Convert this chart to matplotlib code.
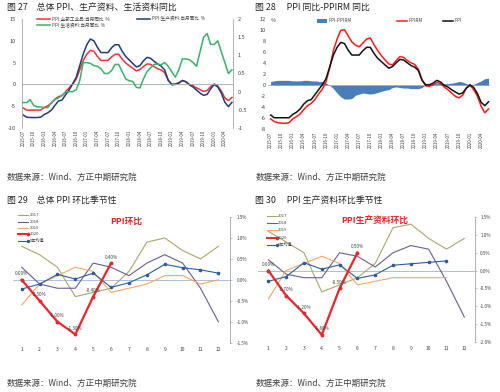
import numpy as np
import pandas as pd
import matplotlib.pyplot as plt
from matplotlib.lines import Line2D
from matplotlib.patches import Rectangle

plt.rcParams['font.family'] = ['Noto Sans CJK SC', 'DejaVu Sans']
plt.rcParams['axes.unicode_minus'] = False

W, H = 500, 392

# ---- monthly data 2015-07 .. 2020-06 ----
months = [p.strftime('%Y-%m') for p in pd.period_range('2015-07', '2020-06', freq='M')]

ppi = [-5.4, -5.9, -5.9, -5.9, -5.9, -5.9,
       -5.3, -4.9, -4.3, -3.4, -2.8, -2.6, -1.7, -0.8, 0.1, 1.2, 3.3, 5.5,
       6.9, 7.8, 7.6, 6.4, 5.5, 5.5, 5.5, 6.3, 6.9, 6.9, 5.8, 4.9,
       4.3, 3.7, 3.1, 3.4, 4.1, 4.7, 4.6, 4.1, 3.6, 3.3, 2.7, 0.9,
       0.1, 0.1, 0.4, 0.9, 0.6, 0.0, -0.3, -0.8, -1.2, -1.6, -1.4, -0.5,
       0.1, -0.4, -1.5, -3.1, -3.7, -3.0]

ppi_prod = [-7.0, -7.5, -7.6, -7.6, -7.6, -7.5,
            -6.9, -6.5, -5.9, -4.8, -3.8, -3.6, -2.4, -1.3, 0.1, 1.6, 4.3, 7.0,
            9.1, 10.4, 10.0, 8.5, 7.3, 7.3, 7.3, 8.4, 9.1, 9.1, 7.6, 6.4,
            5.6, 4.8, 4.0, 4.3, 5.4, 6.2, 6.0, 5.3, 4.7, 4.2, 3.3, 1.0,
            -0.1, 0.0, 0.3, 0.9, 0.6, -0.1, -0.6, -1.3, -2.0, -2.5, -2.3, -1.0,
            0.0, -0.6, -2.0, -4.1, -5.1, -4.1]

ppi_cons = [-0.3, -0.3, -0.22, -0.38, -0.42, -0.42,
            -0.44, -0.44, -0.3, -0.22, -0.17, -0.1, -0.02, 0.0, 0.0, 0.05, 0.3, 0.8,
            0.8, 0.78, 0.72, 0.7, 0.63, 0.5, 0.5, 0.58, 0.75, 0.75, 0.55, 0.35,
            0.3, 0.28, 0.12, 0.1, 0.35, 0.55, 0.65, 0.75, 0.76, 0.74, 0.8, 0.7,
            0.55, 0.4, 0.6, 0.9, 0.9, 0.88, 0.8, 0.7, 1.1, 1.5, 1.6, 1.3,
            1.3, 1.4, 1.1, 0.8, 0.5, 0.6]

ppirm = [-6.1, -6.6, -6.8, -6.9, -6.9, -6.8,
         -6.1, -5.7, -5.2, -4.4, -3.7, -3.3, -2.6, -1.6, -0.7, 0.6, 3.2, 6.3,
         8.4, 10.0, 10.1, 9.0, 7.9, 7.3, 7.0, 7.7, 8.4, 8.6, 7.4, 6.3,
         5.4, 4.6, 3.9, 3.7, 4.5, 5.2, 5.1, 4.5, 4.1, 3.8, 2.9, 1.0,
         -0.1, -0.2, 0.1, 0.5, 0.3, -0.3, -0.8, -1.4, -2.0, -2.3, -1.8, -0.5,
         0.0, -0.8, -2.0, -3.8, -5.0, -4.3]

ppi_minus_ppirm = [0.7, 0.8, 0.9, 0.9, 0.9, 0.9,
                   0.8, 0.8, 0.8, 0.9, 0.9, 0.8, 0.8, 0.7, 0.7, 0.4, 0.0, -0.6,
                   -1.4, -2.1, -2.5, -2.5, -2.4, -1.8, -1.6, -1.4, -1.5, -1.6, -1.5, -1.3,
                   -1.1, -0.9, -0.8, -0.4, -0.3, -0.4, -0.5, -0.5, -0.6, -0.6, -0.6, -0.4,
                   0.1, 0.2, 0.3, 0.3, 0.3, 0.3, 0.3, 0.4, 0.5, 0.7, 0.6, 0.3,
                   0.1, 0.2, 0.5, 0.8, 1.2, 1.3]

# ---- month-on-month seasonality ----
mon = list(range(1, 13))
ppi_mom_2017 = [0.8, 0.6, 0.3, -0.4, -0.3, -0.2, 0.2, 0.9, 1.0, 0.7, 0.5, 0.8]
ppi_mom_2018 = [0.3, -0.1, -0.2, -0.2, 0.4, 0.3, 0.1, 0.4, 0.6, 0.4, -0.2, -1.0]
ppi_mom_2019 = [-0.6, -0.1, 0.1, 0.3, 0.2, -0.3, -0.2, -0.1, 0.1, 0.1, -0.1, 0.0]
ppi_mom_2020 = [0.0, -0.5, -1.0, -1.3, -0.4, 0.4]
ppi_mom_avg = [-0.22, -0.1, 0.13, 0.02, 0.16, -0.18, -0.07, 0.12, 0.37, 0.29, 0.24, 0.16]

prod_mom_2017 = [1.1, 0.8, 0.5, -0.6, -0.4, -0.2, 0.2, 1.2, 1.3, 0.9, 0.6, 0.9]
prod_mom_2018 = [0.3, -0.1, -0.2, -0.2, 0.5, 0.4, 0.1, 0.5, 0.7, 0.6, -0.3, -1.3]
prod_mom_2019 = [-0.8, 0.0, 0.2, 0.4, 0.2, -0.4, -0.3, -0.2, -0.2, -0.2, -0.2]
prod_mom_2020 = [0.0, -0.7, -1.2, -1.8, -0.5, 0.5]
prod_mom_avg = [-0.3, -0.17, 0.22, 0.04, 0.16, -0.22, -0.12, 0.15, 0.19, 0.23, 0.27]

GRID = '#a6a6a6'
TXT = '#404040'

fig = plt.figure(figsize=(W / 100, H / 100), dpi=100)
fig.patch.set_facecolor('white')


def px_axes(x0, y0, x1, y1):
    return fig.add_axes([x0 / W, 1 - y1 / H, (x1 - x0) / W, (y1 - y0) / H])


def fx(x):
    return x / W


def fy(y):
    return 1 - y / H


def key(x0, x1, y, label, fs=3.3, **kw):
    fig.add_artist(Line2D([fx(x0), fx(x1)], [fy(y), fy(y)], transform=fig.transFigure, **kw))
    fig.text(fx(x1 + 1.5), fy(y), label, fontsize=fs, va='center', ha='left', color=TXT)


def style(ax, spines=()):
    for s in ['left', 'right', 'top', 'bottom']:
        ax.spines[s].set_visible(s in spines)
        ax.spines[s].set_color(GRID)
        ax.spines[s].set_linewidth(0.6)
    ax.set_facecolor('none')


idx = np.arange(len(months))

# ================= 图 27 =================
ax1 = px_axes(22, 19, 233, 128)
ax1.plot(idx, ppi, color='#e8343c', lw=1.1)
ax1.plot(idx, ppi_prod, color='#1f3d7a', lw=1.1)
ax1.axhline(0, color=GRID, lw=0.6)
ax1.set_xlim(-0.3, 59.3)
ax1.set_ylim(-10, 15)
ax1.set_yticks([-10, -5, 0, 5, 10, 15])
ax1.set_xticks(idx[::3])
ax1.set_xticklabels(months[::3], rotation=90, fontsize=3.2, color=TXT)
ax1.tick_params(axis='x', length=0, pad=1.5)
ax1.tick_params(axis='y', length=0, pad=4.3, labelsize=4, labelcolor=TXT)
style(ax1, ['left'])
ax1r = ax1.twinx()
ax1r.plot(idx, ppi_cons, color='#3cb06a', lw=1.1)
ax1r.set_ylim(-1, 2)
ax1r.set_yticks([-1, -0.5, 0, 0.5, 1, 1.5, 2])
ax1r.set_yticklabels(['-1', '-0.5', '0', '0.5', '1', '1.5', '2'])
ax1r.tick_params(axis='y', length=0, pad=3.6, labelsize=4, labelcolor=TXT)
style(ax1r, ['right'])

key(37, 50, 19, 'PPI:全部工业品:当月同比  %', color='#e8343c', lw=1.1)
key(137, 150, 19, 'PPI:生产资料:当月同比  %', color='#1f3d7a', lw=1.1)
key(37, 50, 25, 'PPI:生活资料:当月同比  %', color='#3cb06a', lw=1.1)

# ================= 图 28 =================
ax2 = px_axes(268, 19.3, 490, 129.3)
ax2.fill_between(idx, 0, ppi_minus_ppirm, color='#4a7ebb', lw=0)
ax2.axhline(0, color=GRID, lw=0.6)
ax2.plot(idx, ppirm, color='#ff1a1a', lw=1.1)
ax2.plot(idx, ppi, color='#111111', lw=1.1)
ax2.set_xlim(-0.7, 59.4)
ax2.set_ylim(-8, 12)
ax2.set_yticks(range(-8, 13, 2))
ax2.set_xticks(idx[::3])
ax2.set_xticklabels(months[::3], rotation=90, fontsize=3.2, color=TXT)
ax2.tick_params(axis='x', length=0, pad=1.5)
ax2.tick_params(axis='y', length=0, pad=1.5, labelsize=4, labelcolor=TXT)
style(ax2, [])
fig.text(fx(271), fy(20), '%', fontsize=4, color=TXT, va='center')
fig.add_artist(Rectangle((fx(317), fy(22.5)), fx(10), 3 / H, transform=fig.transFigure,
                         color='#4a7ebb', lw=0))
fig.text(fx(328.5), fy(21), 'PPI-PPIRM', fontsize=3.3, va='center', color=TXT)
key(397, 407, 21, 'PPIRM', color='#ff1a1a', lw=1.1)
key(443, 453, 21, 'PPI', color='#111111', lw=1.1)


# ================= 图 29 / 图 30 =================
def season(ax, series, labels_2020, ylim, yticks, ytl, ypad):
    c17, c18, c19, c20, cav = '#a8a86a', '#6b5b95', '#f5a862', '#e8262b', '#2e5c9a'
    s17, s18, s19, s20, sav = series
    ax.axhline(0, color='#9fb4d4', lw=0.6)
    ax.plot(mon[:len(s17)], s17, color=c17, lw=0.8)
    ax.plot(mon[:len(s18)], s18, color=c18, lw=0.8)
    ax.plot(mon[:len(s19)], s19, color=c19, lw=0.8)
    ax.plot(mon[:len(sav)], sav, color=cav, lw=0.8, marker='o', ms=1.6)
    ax.plot(mon[:len(s20)], s20, color=c20, lw=1.6, marker='o', ms=1.8)
    for m, v, t in zip(mon, s20, labels_2020):
        ax.annotate(t, (m, v), xytext=(0, 4.3), textcoords='offset points',
                    ha='center', va='center', fontsize=3.3, color=TXT)
    ax.set_ylim(*ylim)
    ax.set_xticks(mon)
    ax.set_xticklabels([str(m) for m in mon], fontsize=3.6, color=TXT)
    ax.tick_params(axis='x', length=0, pad=3)
    ax.yaxis.tick_right()
    ax.set_yticks(yticks)
    ax.set_yticklabels(ytl)
    ax.tick_params(axis='y', length=1.5, width=0.5, color=GRID, pad=ypad,
                   labelsize=3.3, labelcolor=TXT)
    style(ax, ['right'])
    return c17, c18, c19, c20, cav


ax3 = px_axes(13, 217, 230, 342.7)
ax3.set_xlim(0.513, 12.65)
cols = season(ax3, [ppi_mom_2017, ppi_mom_2018, ppi_mom_2019, ppi_mom_2020, ppi_mom_avg],
              ['0.00%', '-0.50%', '-1.00%', '-1.30%', '-0.40%', '0.40%'],
              (-1.5, 1.5), [-1.5, -1.0, -0.5, 0, 0.5, 1.0, 1.5],
              ['-1.5%', '-1.0%', '-0.5%', '0.0%', '0.5%', '1.0%', '1.5%'], 3.6)

ax4 = px_axes(258, 217, 475, 342)
ax4.set_xlim(0.42, 12.6)
season(ax4, [prod_mom_2017, prod_mom_2018, prod_mom_2019, prod_mom_2020, prod_mom_avg],
       ['0.00%', '-0.70%', '-1.20%', '-1.80%', '-0.50%', '0.50%'],
       (-2.0, 1.5), [-2.0, -1.5, -1.0, -0.5, 0, 0.5, 1.0, 1.5],
       ['-2.0%', '-1.5%', '-1.0%', '-0.5%', '0.0%', '0.5%', '1.0%', '1.5%'], 2.2)

names = ['2017', '2018', '2019', '2020', '5年均值']
for (x0, x1), ys in [((18.3, 28.3), [215, 221.7, 227.7, 234.3, 240.7]),
                     ((266.7, 276.7), [215.7, 222.7, 230, 237.7, 244.7])]:
    for name, y, c in zip(names, ys, cols):
        if name == '2020':
            key(x0, x1, y, name, fs=3.0, color=c, lw=1.4, marker='o', ms=1.6, markevery=[1])
        elif name == '5年均值':
            key(x0, x1, y, name, fs=3.0, color=c, lw=0.8, marker='o', ms=1.4, markevery=[1])
        else:
            key(x0, x1, y, name, fs=3.0, color=c, lw=0.8)

fig.text(fx(126.7), fy(221), 'PPI环比', fontsize=6.3, fontweight='bold', color='#e8262b',
         ha='center', va='center')
fig.text(fx(375), fy(221), 'PPI生产资料环比', fontsize=6.3, fontweight='bold', color='#e8262b',
         ha='center', va='center')

# ---- titles and sources ----
titles = [(7, 7, '图 27\u3000总体 PPI、生产资料、生活资料同比'),
          (255, 7, '图 28\u3000 PPI 同比-PPIRM 同比'),
          (7, 200, '图 29\u3000总体 PPI 环比季节性'),
          (255, 200, '图 30\u3000 PPI 生产资料环比季节性')]
for x, y, t in titles:
    fig.text(fx(x), fy(y), t, fontsize=6.4, color='#262626', va='center', ha='left')

for x, y in [(7, 177), (256, 177), (7, 383), (256, 383)]:
    fig.text(fx(x), fy(y), '数据来源：Wind、方正中期研究院', fontsize=6.1, color=TXT,
             va='center', ha='left', style='italic')

fig.savefig('out.png', dpi=100, facecolor='white')
